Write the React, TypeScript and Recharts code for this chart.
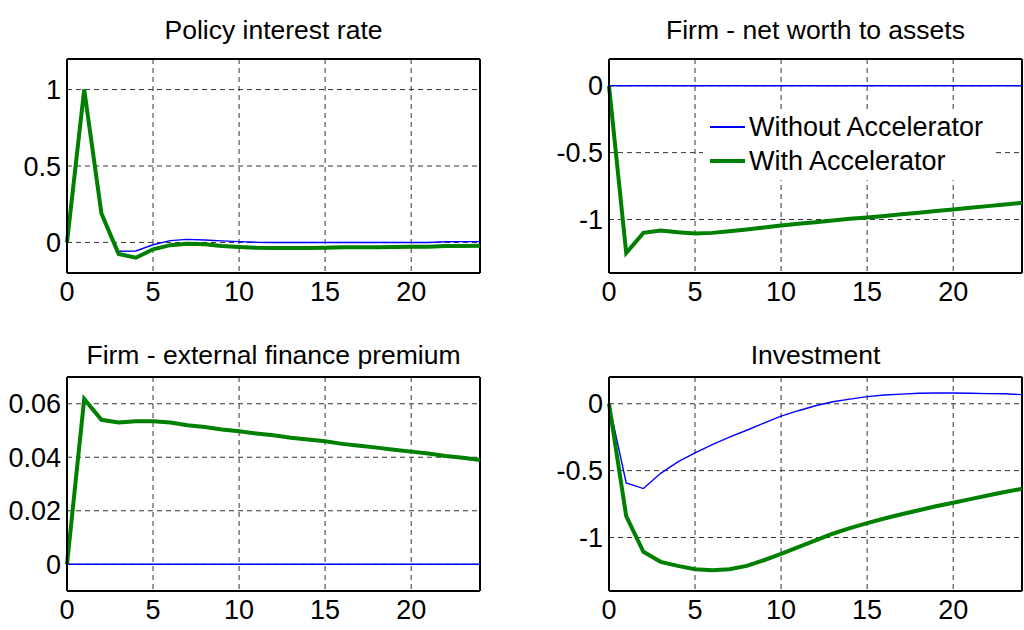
import React from 'react'
import { LineChart, Line, XAxis, YAxis, CartesianGrid, ReferenceLine, Legend } from 'recharts'

// horizon (quarters)
const periods = [0, 1, 2, 3, 4, 5, 6, 7, 8, 9, 10, 11, 12, 13, 14, 15, 16, 17, 18, 19, 20, 21, 22, 23, 24]
const xTicks = [0, 5, 10, 15, 20]

const policyWithout = [0, 1.0, 0.19, -0.058, -0.056, -0.015, 0.012, 0.02, 0.016, 0.01, 0.005, 0.001, 0, 0, 0, 0, 0, 0, 0, 0, 0, 0, 0.004, 0.005, 0.005]
const policyWith = [0, 1.0, 0.19, -0.076, -0.1, -0.045, -0.018, -0.008, -0.012, -0.024, -0.03, -0.035, -0.036, -0.036, -0.036, -0.035, -0.032, -0.031, -0.031, -0.03, -0.029, -0.028, -0.024, -0.023, -0.022]

const netWorthWithout = [0, 0, 0, 0, 0, 0, 0, 0, 0, 0, 0, 0, 0, 0, 0, 0, 0, 0, 0, 0, 0, 0, 0, 0, 0]
const netWorthWith = [0, -1.25, -1.1, -1.082, -1.095, -1.105, -1.1, -1.088, -1.075, -1.06, -1.045, -1.032, -1.02, -1.007, -0.995, -0.985, -0.973, -0.961, -0.949, -0.937, -0.925, -0.913, -0.9, -0.888, -0.875]

const premiumWithout = [0, 0, 0, 0, 0, 0, 0, 0, 0, 0, 0, 0, 0, 0, 0, 0, 0, 0, 0, 0, 0, 0, 0, 0, 0]
const premiumWith = [0, 0.0618, 0.054, 0.053, 0.0535, 0.0535, 0.053, 0.052, 0.0513, 0.0504, 0.0497, 0.0489, 0.0482, 0.0473, 0.0466, 0.046, 0.045, 0.0443, 0.0436, 0.0428, 0.0421, 0.0414, 0.0405, 0.0398, 0.039]

const investWithout = [0, -0.592, -0.634, -0.52, -0.435, -0.368, -0.305, -0.25, -0.198, -0.145, -0.093, -0.052, -0.015, 0.015, 0.035, 0.053, 0.065, 0.072, 0.078, 0.08, 0.08, 0.079, 0.076, 0.075, 0.068]
const investWith = [0, -0.841, -1.107, -1.182, -1.212, -1.237, -1.244, -1.237, -1.212, -1.17, -1.122, -1.072, -1.022, -0.972, -0.93, -0.893, -0.858, -0.826, -0.796, -0.766, -0.74, -0.713, -0.686, -0.66, -0.636]

const seriesNames = ['Without Accelerator', 'With Accelerator']

const FONT = '"Liberation Sans", Arial, Helvetica, sans-serif'
const BLUE = '#0000ff'
const GREEN = '#008000'

const toRows = (a: number[], b: number[]) => periods.map((t, i) => ({ t, without: a[i], with: b[i] }))

const LegendBox = ({ payload }: any) => {
  const items = [...(payload || [])].sort((a: any, b: any) => seriesNames.indexOf(a.value) - seriesNames.indexOf(b.value))
  return (
    <div style={{ background: '#fff', width: 290, height: 70, fontFamily: FONT, fontSize: 27, color: '#000' }}>
      {items.map((entry: any) => (
        <div key={entry.value} style={{ height: 34, lineHeight: '34px', display: 'flex', alignItems: 'center', whiteSpace: 'nowrap' }}>
          <span
            style={{
              display: 'inline-block',
              marginLeft: 7,
              width: 35,
              height: entry.value === 'With Accelerator' ? 4 : 1.4,
              background: entry.color,
              marginRight: 4,
            }}
          />
          {entry.value}
        </div>
      ))}
    </div>
  )
}

function Panel({ title, rows, domain, yTicks, left, top, titleTop, yWidth, legend }: any) {
  const wide = left > 500
  const plotLeft = left + yWidth
  const plotRight = left + (wide ? 482 : 480)
  return (
    <>
      <div
        style={{
          position: 'absolute',
          left: plotLeft,
          width: plotRight - plotLeft,
          top: titleTop,
          lineHeight: '30px',
          textAlign: 'center',
          fontFamily: FONT,
          fontSize: 26.5,
          whiteSpace: 'nowrap',
        }}
      >
        {title}
      </div>
      <div style={{ position: 'absolute', left, top: top - 14 }}>
        <LineChart
          width={wide ? 484 : 490}
          height={268}
          data={rows}
          margin={{ top: 14, right: wide ? 2 : 10, bottom: 0, left: 0 }}
          style={{ fontFamily: FONT }}
        >
          <CartesianGrid stroke="#333" strokeDasharray="5 4" />
          <XAxis
            dataKey="t"
            type="number"
            domain={[0, 24]}
            ticks={xTicks}
            tickLine={false}
            tickSize={6}
            tickMargin={3}
            height={40}
            axisLine={{ stroke: '#000', strokeWidth: 2 }}
            tick={{ fill: '#000', fontSize: 27 }}
          />
          <YAxis
            type="number"
            domain={domain}
            ticks={yTicks}
            tickLine={false}
            tickSize={4}
            tickMargin={2}
            width={yWidth}
            allowDataOverflow
            axisLine={{ stroke: '#000', strokeWidth: 2 }}
            tick={{ fill: '#000', fontSize: 27 }}
          />
          <ReferenceLine y={domain[1]} stroke="#000" strokeWidth={2} />
          <ReferenceLine x={24} stroke="#000" strokeWidth={2} />
          {legend && (
            <Legend
              layout="vertical"
              align="center"
              verticalAlign="middle"
              content={<LegendBox />}
              wrapperStyle={{ left: 163, top: 65, width: 290, height: 70 }}
            />
          )}
          <Line
            type="linear"
            dataKey="without"
            name={seriesNames[0]}
            stroke={BLUE}
            strokeWidth={1.4}
            dot={false}
            isAnimationActive={false}
          />
          <Line
            type="linear"
            dataKey="with"
            name={seriesNames[1]}
            stroke={GREEN}
            strokeWidth={4}
            dot={false}
            isAnimationActive={false}
          />
        </LineChart>
      </div>
    </>
  )
}

export default function App() {
  return (
    <div style={{ position: 'absolute', left: 0, top: 0, width: 1024, height: 630, background: '#fff', overflow: 'hidden' }}>
      <Panel
        title="Policy interest rate"
        rows={toRows(policyWithout, policyWith)}
        domain={[-0.2, 1.2]}
        yTicks={[0, 0.5, 1]}
        left={0}
        top={59}
        titleTop={15}
        yWidth={67}
      />
      <Panel
        title="Firm - net worth to assets"
        rows={toRows(netWorthWithout, netWorthWith)}
        domain={[-1.4, 0.2]}
        yTicks={[-1, -0.5, 0]}
        left={540}
        top={59}
        titleTop={15}
        yWidth={69}
        legend
      />
      <Panel
        title="Firm - external finance premium"
        rows={toRows(premiumWithout, premiumWith)}
        domain={[-0.01, 0.07]}
        yTicks={[0, 0.02, 0.04, 0.06]}
        left={0}
        top={377}
        titleTop={340}
        yWidth={67}
      />
      <Panel
        title="Investment"
        rows={toRows(investWithout, investWith)}
        domain={[-1.4, 0.2]}
        yTicks={[-1, -0.5, 0]}
        left={540}
        top={377}
        titleTop={340}
        yWidth={69}
      />
    </div>
  )
}
